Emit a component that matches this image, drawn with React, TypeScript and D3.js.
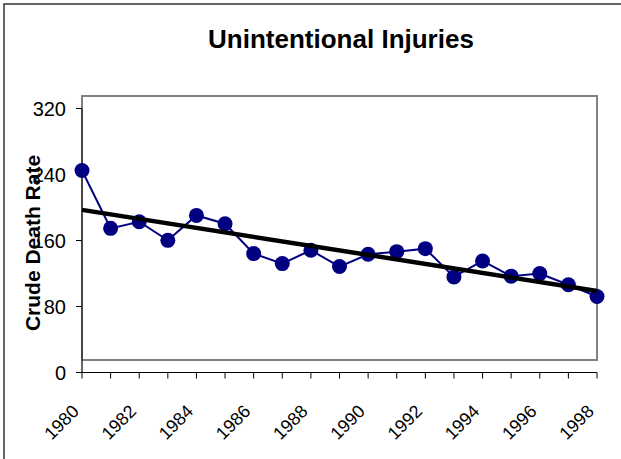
import React from 'react';
import * as d3 from 'd3';

// Unintentional injuries, crude death rate by year
const years = [1980, 1981, 1982, 1983, 1984, 1985, 1986, 1987, 1988, 1989,
  1990, 1991, 1992, 1993, 1994, 1995, 1996, 1997, 1998];
const rates = [244.8, 174.7, 182.7, 160.2, 190.4, 180.3, 144.1, 132.0, 148.2, 128.4,
  143.3, 146.5, 150.1, 115.9, 135.2, 116.8, 119.9, 106.3, 92.1];
const yTicks = [0, 80, 160, 240, 320];
const yearLabels = [1980, 1982, 1984, 1986, 1988, 1990, 1992, 1994, 1996, 1998];

const W = 621;
const H = 459;
const font = 'Arial, "Liberation Sans", Helvetica, sans-serif';

export default function App() {
  const x = d3.scaleLinear().domain([1980, 1998]).range([82, 597]);
  const y = d3.scaleLinear().domain([0, 320]).range([372.5, 108.5]);

  // least squares trend
  const mx = d3.mean(years)!;
  const my = d3.mean(rates)!;
  const slope = d3.sum(years, (yr, i) => (yr - mx) * (rates[i] - my)) / d3.sum(years, yr => (yr - mx) ** 2);
  const trend = (yr: number) => my + slope * (yr - mx);

  const line = d3.line<number>()
    .x((_, i) => x(years[i]))
    .y(d => y(d));

  return (
    <svg width={W} height={H} style={{ position: 'absolute', left: 0, top: 0 }} fontFamily={font}>
      <rect x={0} y={0} width={W} height={H} fill="#fff" />
      <rect x={4} y={4} width={W + 10} height={H + 10} fill="none" stroke="#333" strokeWidth={1.5} />
      <text x={341} y={48} textAnchor="middle" fontSize={26} fontWeight="bold">Unintentional Injuries</text>

      {/* plot area */}
      <rect x={82} y={96} width={515} height={264} fill="none" stroke="#808080" strokeWidth={2} />

      {/* y axis */}
      <line x1={82} x2={82} y1={y(320)} y2={y(0)} stroke="#333" strokeWidth={1.5} />
      {yTicks.map(t => (
        <g key={t}>
          <line x1={76} x2={82} y1={y(t)} y2={y(t)} stroke="#000" strokeWidth={1} />
          <text x={66} y={y(t)} dy="0.36em" textAnchor="end" fontSize={20}>{t}</text>
        </g>
      ))}
      <text transform="translate(40,243) rotate(-90)" textAnchor="middle" fontSize={21} fontWeight="bold">Crude Death Rate</text>

      {/* x axis */}
      <line x1={x(1980)} x2={x(1998)} y1={y(0)} y2={y(0)} stroke="#000" strokeWidth={1} />
      {years.map(yr => (
        <line key={yr} x1={x(yr)} x2={x(yr)} y1={y(0)} y2={y(0) + 6} stroke="#000" strokeWidth={1} />
      ))}
      {yearLabels.map(yr => (
        <text key={yr} transform={`translate(${x(yr) - 2},${y(0) + 40}) rotate(-45)`} textAnchor="end" fontSize={18}>{yr}</text>
      ))}

      {/* series */}
      <path d={line(rates) ?? ''} fill="none" stroke="#000080" strokeWidth={2} />
      {rates.map((r, i) => (
        <circle key={i} cx={x(years[i])} cy={y(r)} r={7.5} fill="#000080" />
      ))}
      <line x1={x(1980)} y1={y(trend(1980))} x2={x(1998)} y2={y(trend(1998))} stroke="#000" strokeWidth={4.5} />
    </svg>
  );
}
